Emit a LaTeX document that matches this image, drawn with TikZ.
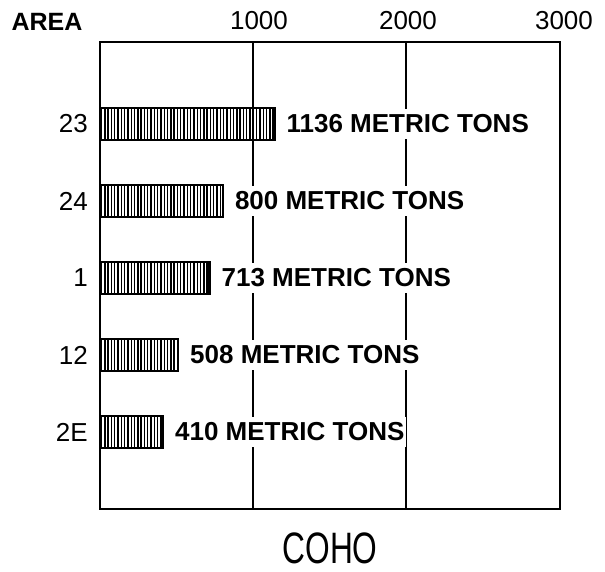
\documentclass[tikz,border=0pt]{standalone}
\usepackage{graphicx}
\usepackage{fontspec}
\setmainfont{Liberation Sans}
\usetikzlibrary{positioning}

\begin{document}
\begin{tikzpicture}[x=1pt,y=-1pt,
  frame/.style={line width=2pt},
  gridline/.style={line width=1.8pt},
  barbox/.style={line width=2.4pt},
  hatch/.style={line width=1.4pt},
  arealbl/.style={anchor=east,inner sep=0pt,font=\fontsize{26}{30}\selectfont},
  ticklbl/.style={inner sep=0pt,font=\fontsize{26}{30}\selectfont},
  tonslbl/.style={fill=white,inner xsep=2pt,inner ysep=6pt,font=\bfseries\fontsize{26}{30}\selectfont}]
\useasboundingbox (0,0) rectangle (605,572);
% frame and grid lines
\draw[frame] (100,42) rectangle (560,509);
\foreach \g in {253,406}
  \draw[gridline] (\g,42) -- (\g,509);
% axis labels
\node[inner sep=0pt,font=\bfseries\fontsize{25}{30}\selectfont] (area) at (47,22) {AREA};
\node[ticklbl] (t1000) at (259,21) {1000};
\node[ticklbl] (t2000) at (408,21) {2000};
\node[ticklbl] (t3000) at (564,21) {3000};
% bars
\foreach \name/\val/\y [count=\i] in {23/1136/124, 24/800/201, 1/713/278, 12/508/355, 2E/410/432} {
  \pgfmathsetmacro{\xe}{100+0.1535*\val}
  \begin{scope}
    \clip (100,\y-16) rectangle (\xe,\y+16);
    \foreach \h in {101.5,104.8,...,\xe}
      \draw[hatch] (\h,\y-16) -- (\h,\y+16);
  \end{scope}
  \draw[barbox] (100,\y-16) rectangle (\xe,\y+16);
  \coordinate (e\i) at (\xe,\y);
  \node[arealbl] (a\i) at (88,\y) {\name};
  \node[tonslbl,right=10pt of e\i] (v\i) {\val\ METRIC TONS};
}
% title
\node[inner sep=0pt,font=\fontsize{44}{50}\selectfont] (title) at (330,548) {\scalebox{0.72}[1]{COHO}};
\end{tikzpicture}
\end{document}
